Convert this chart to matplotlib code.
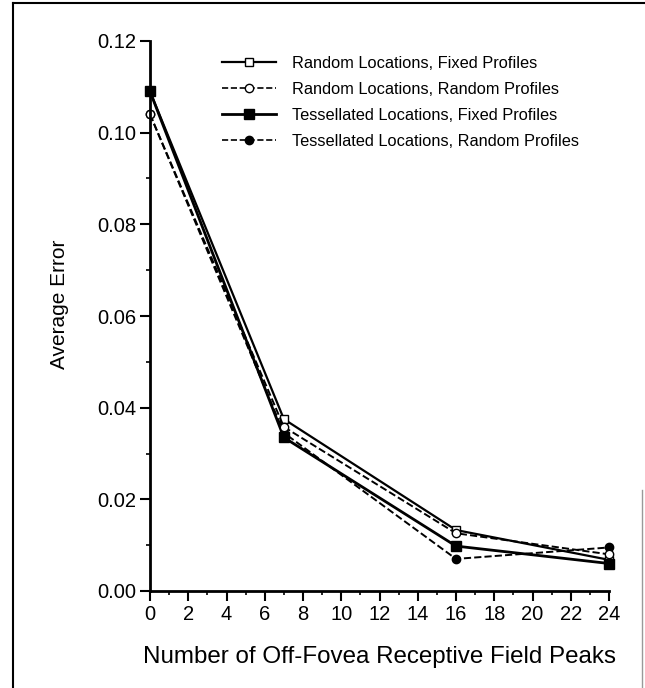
import matplotlib as mpl
import matplotlib.pyplot as plt
from matplotlib.ticker import MultipleLocator, FormatStrFormatter
from matplotlib.lines import Line2D

mpl.rcParams.update({
    'font.family': ['Liberation Sans', 'DejaVu Sans'],
    'figure.dpi': 100,
})

# Data
peaks = [0, 7, 16, 24]
rand_fixed = [0.109, 0.0375, 0.0133, 0.0068]
rand_random = [0.104, 0.0358, 0.0126, 0.0080]
tess_fixed = [0.109, 0.0335, 0.0098, 0.0060]
tess_random = [0.104, 0.0345, 0.0070, 0.0095]
labels = ['Random Locations, Fixed Profiles',
          'Random Locations, Random Profiles',
          'Tessellated Locations, Fixed Profiles',
          'Tessellated Locations, Random Profiles']

f = plt.figure(figsize=(6.45, 6.88))
ax = f.add_axes([150 / 645, 1 - 591 / 688, 459 / 645, 550 / 688])

kw = dict(color='black', clip_on=False)
ax.plot(peaks, rand_fixed, '-', lw=1.6, marker='s', ms=6, mfc='white', label=labels[0], **kw)
ax.plot(peaks, tess_fixed, '-', lw=2.0, marker='s', ms=7, mfc='black', label=labels[2], **kw)
ax.plot(peaks, tess_random, '--', lw=1.4, marker='o', ms=6, mfc='black', label=labels[3], **kw)
ax.plot(peaks, rand_random, '--', lw=1.4, marker='o', ms=6, mfc='white', label=labels[1], **kw)

ax.set_xlim(0, 24)
ax.set_ylim(0, 0.12)
ax.xaxis.set_major_locator(MultipleLocator(2))
ax.xaxis.set_minor_locator(MultipleLocator(1))
ax.yaxis.set_major_locator(MultipleLocator(0.02))
ax.yaxis.set_minor_locator(MultipleLocator(0.01))
ax.yaxis.set_major_formatter(FormatStrFormatter('%.2f'))
ax.tick_params(which='major', direction='out', length=7, width=1.5, labelsize=14.5, pad=3)
ax.tick_params(which='minor', direction='out', length=3, width=1.2)
for s in ['top', 'right']:
    ax.spines[s].set_visible(False)
for s in ['left', 'bottom']:
    ax.spines[s].set_linewidth(2)

ax.set_ylabel('Average Error', fontsize=15)
ax.yaxis.set_label_coords(-0.177, 0.522)
ax.set_xlabel('Number of Off-Fovea Receptive Field Peaks', fontsize=17.4, labelpad=16)

handles = [
    Line2D([], [], color='black', ls='-', lw=1.6, marker='s', ms=6, mfc='white'),
    Line2D([], [], color='black', ls='--', lw=1.2, marker='o', ms=6, mfc='white'),
    Line2D([], [], color='black', ls='-', lw=2.0, marker='s', ms=7, mfc='black'),
    Line2D([], [], color='black', ls='--', lw=1.2, marker='o', ms=6, mfc='black'),
]
ax.legend(handles, labels, loc='upper left', bbox_to_anchor=(0.125, 1.0),
          frameon=False, fontsize=11.8, handlelength=3.3, handletextpad=0.95,
          labelspacing=0.67)

# frame around the figure
f.add_artist(Line2D([13 / 645, 13 / 645], [0, 1 - 3 / 688], color='black', lw=1.5))
f.add_artist(Line2D([13 / 645, 1], [1 - 3 / 688, 1 - 3 / 688], color='black', lw=1.5))
f.add_artist(Line2D([642 / 645, 642 / 645], [0, 1 - 490 / 688], color='0.6', lw=1))

f.savefig('out.png')
